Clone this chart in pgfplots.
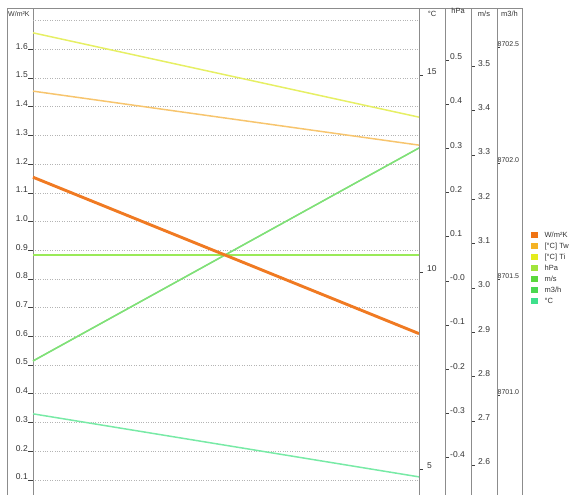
\documentclass[border=0pt]{standalone}
\usepackage{fontspec}
\setmainfont{Liberation Sans}
\usepackage{pgfplots}
\pgfplotsset{compat=1.18}
\definecolor{frame}{HTML}{8C8C8C}
\definecolor{gridc}{HTML}{B4B4B4}
\definecolor{cW}{HTML}{F07414}
\definecolor{cTw}{HTML}{F5B325}
\definecolor{cTi}{HTML}{E4EC1E}
\definecolor{chPa}{HTML}{A0E43C}
\definecolor{cms}{HTML}{5AD83C}
\definecolor{cmh}{HTML}{4AD850}
\definecolor{cC}{HTML}{3EE08C}
\definecolor{lW}{HTML}{F07A22}
\definecolor{lTw}{HTML}{F7C56E}
\definecolor{lTi}{HTML}{E6EF64}
\definecolor{lhPa}{HTML}{9AEA58}
\definecolor{lms}{HTML}{80E078}
\definecolor{lC}{HTML}{78EAA6}
\pgfplotsset{
  base/.style={scale only axis, anchor=south west, height=491pt, xmin=0, xmax=1,
    xtick=\empty, /pgf/number format/assume math mode=true},
  overlay/.style={base, at={(33pt,-5pt)}, width=386pt, hide axis, clip=false},
  column/.style={base, width=26pt, axis line style={draw=frame, line width=1pt},
    ytick pos=left, tick align=inside, major tick length=4pt,
    ytick style={draw=black!75, line width=0.7pt},
    yticklabel style={anchor=south west, inner sep=0pt, font=\fontsize{8.5}{9}\selectfont, text=black!80}},
}
\begin{document}
\begin{tikzpicture}[x=1pt,y=1pt]
\path[use as bounding box] (0pt,0pt) rectangle (570pt,495pt);
% main axis
\begin{axis}[base, at={(33pt,-5pt)}, width=386pt,
  ymin=0.03031, ymax=1.7411,
  axis line style={draw=frame, line width=1pt},
  ytick={0.1,0.2,0.3,0.4,0.5,0.6,0.7,0.8,0.9,1.0,1.1,1.2,1.3,1.4,1.5,1.6},
  yticklabels={0.1,0.2,0.3,0.4,0.5,0.6,0.7,0.8,0.9,1.0,1.1,1.2,1.3,1.4,1.5,1.6},
  extra y ticks={1.7}, extra y tick labels={},
  extra y tick style={ytick style={draw=none}},
  ymajorgrids, grid style={gridc, dotted, line width=0.8pt},
  ytick pos=left, tick align=outside, major tick length=5pt,
  ytick style={draw=black!75, line width=0.8pt},
  yticklabel style={anchor=south east, inner sep=0pt, font=\fontsize{8.5}{9}\selectfont, text=black!80},
  legend image code/.code={\fill[#1, draw=none] (0pt,-3pt) rectangle (6.5pt,3.5pt);\path[draw=none, fill=none] (0pt,0pt) -- (13pt,0pt);},
  legend style={at={(axis description cs:1.290,0.548)}, anchor=north west, draw=none, fill=none,
    font=\fontsize{7.5}{8}\selectfont, text=black!80, row sep=3pt, inner sep=0pt,
    nodes={inner sep=0.5pt, text height=5.5pt, text depth=1.5pt}},
  legend cell align=left,
]
\addlegendimage{cW}\addlegendentry{W/m²K}
\addlegendimage{cTw}\addlegendentry{[°C] Tw}
\addlegendimage{cTi}\addlegendentry{[°C] Ti}
\addlegendimage{chPa}\addlegendentry{hPa}
\addlegendimage{cms}\addlegendentry{m/s}
\addlegendimage{cmh}\addlegendentry{m3/h}
\addlegendimage{cC}\addlegendentry{°C}
\end{axis}
% series in their own units
\begin{axis}[overlay, ymin=8700.547, ymax=8702.664]
\addplot[lms, line width=1.4pt] coordinates {(0,8701.147) (1,8702.065)};
\end{axis}
\begin{axis}[overlay, ymin=2.5214, ymax=3.6298]
\addplot[lms, line width=1.4pt] coordinates {(0,2.835) (1,3.316)};
\end{axis}
\begin{axis}[overlay, ymin=-0.4955, ymax=0.6154]
\addplot[lhPa, line width=1.5pt] coordinates {(0,0.059) (1,0.059)};
\end{axis}
\begin{axis}[overlay, ymin=4.213, ymax=16.675]
\addplot[lC, line width=1.5pt] coordinates {(0,6.40) (1,4.80)};
\addplot[lTw, line width=1.5pt] coordinates {(0,14.59) (1,13.22)};
\addplot[lTi, line width=1.5pt] coordinates {(0,16.07) (1,13.93)};
\end{axis}
\begin{axis}[overlay, ymin=0.03031, ymax=1.7411]
\addplot[lW, line width=2.9pt] coordinates {(0,1.155) (1,0.61)};
\end{axis}
% extra scale columns
\begin{axis}[column, at={(419pt,-5pt)}, ymin=4.213, ymax=16.675,
  ytick={5,10,15}, yticklabels={5,10,15},
  yticklabel style={xshift=8pt}]
\end{axis}
\begin{axis}[column, at={(445pt,-5pt)}, ymin=-0.4955, ymax=0.6154,
  ytick={-0.4,-0.3,-0.2,-0.1,0,0.1,0.2,0.3,0.4,0.5},
  yticklabels={-0.4,-0.3,-0.2,-0.1,-0.0,0.1,0.2,0.3,0.4,0.5},
  yticklabel style={xshift=5pt}]
\end{axis}
\begin{axis}[column, at={(471pt,-5pt)}, ymin=2.5214, ymax=3.6298,
  ytick={2.6,2.7,2.8,2.9,3.0,3.1,3.2,3.3,3.4,3.5},
  yticklabels={2.6,2.7,2.8,2.9,3.0,3.1,3.2,3.3,3.4,3.5},
  yticklabel style={xshift=7pt}]
\end{axis}
\begin{axis}[column, at={(497pt,-5pt)}, width=25pt, ymin=8700.547, ymax=8702.664,
  ytick={8701,8701.5,8702,8702.5},
  yticklabels={8701.0,8701.5,8702.0,8702.5},
  major tick length=2.5pt,
  yticklabel style={xshift=0.5pt, font=\fontsize{7}{8}\selectfont}]
\end{axis}
% outer frame of the left label column and header labels
\draw[frame, line width=1pt] (7pt,-5pt) -- (7pt,486pt) -- (33pt,486pt);
\node[anchor=north west, inner sep=0pt, font=\fontsize{7}{8}\selectfont, text=black!80] at (8pt,484pt) {W/m²K};
\node[anchor=north, inner sep=0pt, font=\fontsize{7.5}{8}\selectfont, text=black!80] at (432pt,484pt) {°C};
\node[anchor=north, inner sep=0pt, font=\fontsize{7.5}{8}\selectfont, text=black!80] at (458pt,487pt) {hPa};
\node[anchor=north, inner sep=0pt, font=\fontsize{7.5}{8}\selectfont, text=black!80] at (484pt,484pt) {m/s};
\node[anchor=north, inner sep=0pt, font=\fontsize{7.5}{8}\selectfont, text=black!80] at (509.5pt,484pt) {m3/h};
\end{tikzpicture}
\end{document}
